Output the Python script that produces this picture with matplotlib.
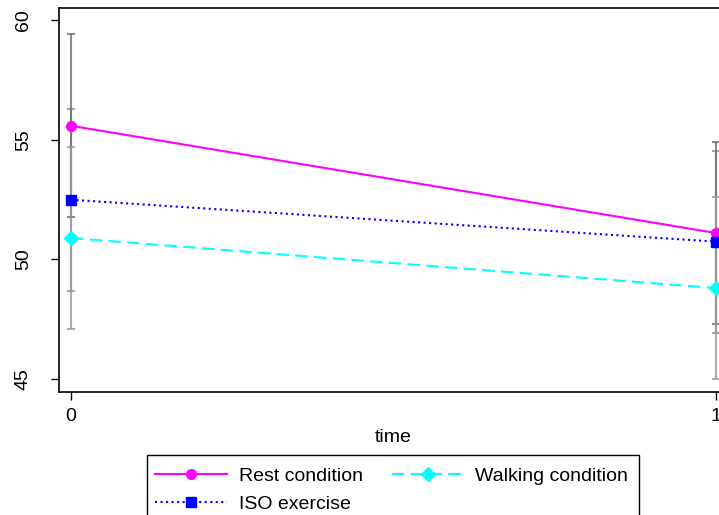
import numpy as np
from matplotlib import pyplot as plt
from matplotlib.lines import Line2D
from matplotlib.patches import Rectangle

plt.rcParams['font.family'] = ['Liberation Sans', 'DejaVu Sans']

# marginal means at each time point
times = [0, 1]
rest = [55.58, 51.10]
iso = [52.49, 50.74]
walking = [50.89, 48.80]
# half widths of the confidence intervals
rest_ci = [3.82, 3.80]
iso_ci = [3.80, 3.80]
walking_ci = [3.80, 3.80]

series_names = ['Rest condition', 'ISO exercise', 'Walking condition']
yticks = [45, 50, 55, 60]
xticks = [0, 1]

W, H = 719, 515
fig = plt.figure(figsize=(W/100, H/100), dpi=100)
# axes run a little past the right edge, like the cropped original
ax = fig.add_axes([59/W, 1 - 392/H, 669/W, 384/H])

# gray intervals behind the lines
ax.errorbar(times, rest, yerr=rest_ci, fmt='none', ecolor='#6e6e6e',
            alpha=0.8, elinewidth=1.5, capsize=3, capthick=1.5, zorder=1)
ax.errorbar(times, iso, yerr=iso_ci, fmt='none', ecolor='#6e6e6e',
            alpha=0.6, elinewidth=1.5, capsize=3, capthick=1.5, zorder=1)
ax.errorbar(times, walking, yerr=walking_ci, fmt='none', ecolor='#999999',
            alpha=0.8, elinewidth=1.5, capsize=3, capthick=1.5, zorder=1)

ax.plot(times, rest, color='#ff00ff', lw=1.5, marker='o', ms=7, zorder=3)
ax.plot(times, iso, color='#0000ff', lw=1.5, ls=':', marker='s', ms=7, zorder=3)
ax.plot(times, walking, color='#00ffff', lw=1.5, ls=(0, (6, 3)),
        marker='D', ms=7, zorder=3)

ax.set_xlim(-0.0186, 1.0186)
ax.set_ylim(44.46, 60.5)
ax.set_xticks(xticks)
ax.set_yticks(yticks)
ax.tick_params(axis='both', labelsize=14, length=5.5, width=1, direction='out')
ax.tick_params(axis='y', pad=14)
ax.tick_params(axis='x', pad=6)
plt.setp(ax.get_yticklabels(), rotation=90, va='center')
for s in ax.spines.values():
    s.set_linewidth(1.2)
ax.set_xlabel('time', fontsize=14, labelpad=3)

handles = [
    Line2D([], [], color='#ff00ff', lw=1.5, marker='o', ms=7),
    Line2D([], [], color='#0000ff', lw=1.5, ls=':', marker='s', ms=7),
    Line2D([], [], color='#00ffff', lw=1.5, ls=(0, (6, 3)), marker='D', ms=7),
]
leg = fig.legend(handles, series_names, ncol=2, loc='upper left',
                 bbox_to_anchor=(155/W, 1 - 467/H), fontsize=14,
                 frameon=False, borderaxespad=0, borderpad=0,
                 handlelength=3.7, handletextpad=0.6, columnspacing=1.5,
                 labelspacing=0.55)

# legend box, cut by the bottom edge as in the original
fig.patches.append(Rectangle((147/W, -0.05), (639 - 147)/W, 1 - 455/H + 0.05,
                             transform=fig.transFigure, fill=False,
                             edgecolor='black', lw=1.0))

fig.savefig('out.png', dpi=100)
